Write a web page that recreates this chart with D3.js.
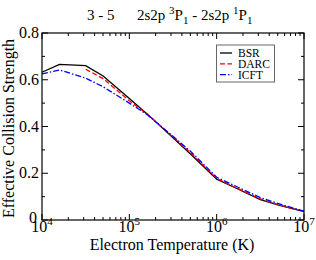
<!DOCTYPE html>
<html>
<head>
<meta charset="utf-8">
<script src="https://d3js.org/d3.v7.min.js"></script>
<style>
body { margin: 0; background: #fff; }
svg text { font-family: "Liberation Serif", "DejaVu Serif", serif; }
</style>
</head>
<body>
<script>
// temperatures (K) on a log grid
const temps = [1e4, 1.585e4, 3.162e4, 5.012e4, 1e5, 1.585e5, 3.162e5, 5.012e5, 1e6, 1.585e6, 3.162e6, 5.012e6, 1e7];
const bsr  = [0.632, 0.666, 0.660, 0.616, 0.520, 0.455, 0.352, 0.282, 0.175, 0.140, 0.087, 0.065, 0.036];
const darc = [null, null, 0.645, 0.605, 0.510, 0.455, 0.355, 0.288, 0.178, 0.142, 0.090, 0.066, 0.037];
const icft = [0.625, 0.642, 0.607, 0.570, 0.500, 0.452, 0.358, 0.294, 0.183, 0.148, 0.096, 0.071, 0.038];
const seriesNames = ["BSR", "DARC", "ICFT"];
const yTicks = [0, 0.2, 0.4, 0.6, 0.8];
const xTicks = [1e4, 1e5, 1e6, 1e7];

const width = 316, height = 260;
const margin = {left: 42, right: 12, top: 33, bottom: 40};

const svg = d3.select("body").append("svg")
  .attr("width", width).attr("height", height);

const x = d3.scaleLog().domain([1e4, 1e7]).range([margin.left, width - margin.right]);
const y = d3.scaleLinear().domain([0, 0.8]).range([height - margin.bottom, margin.top]);

const x0 = margin.left, x1 = width - margin.right;
const y0 = height - margin.bottom, y1 = margin.top;

// minor ticks
const xMinor = [];
[1e4, 1e5, 1e6].forEach(d => { for (let k = 2; k <= 9; k++) xMinor.push(d * k); });
const yMinor = [0.1, 0.3, 0.5, 0.7];

const tk = svg.append("g").attr("stroke", "#000").attr("stroke-width", 1);
xMinor.forEach(v => {
  tk.append("line").attr("x1", x(v)).attr("x2", x(v)).attr("y1", y0).attr("y2", y0 - 3);
  tk.append("line").attr("x1", x(v)).attr("x2", x(v)).attr("y1", y1).attr("y2", y1 + 3);
});
xTicks.forEach(v => {
  tk.append("line").attr("x1", x(v)).attr("x2", x(v)).attr("y1", y0).attr("y2", y0 - 6);
  tk.append("line").attr("x1", x(v)).attr("x2", x(v)).attr("y1", y1).attr("y2", y1 + 6);
});
yMinor.forEach(v => {
  tk.append("line").attr("x1", x0).attr("x2", x0 + 3).attr("y1", y(v)).attr("y2", y(v));
  tk.append("line").attr("x1", x1).attr("x2", x1 - 3).attr("y1", y(v)).attr("y2", y(v));
});
yTicks.forEach(v => {
  tk.append("line").attr("x1", x0).attr("x2", x0 + 6).attr("y1", y(v)).attr("y2", y(v));
  tk.append("line").attr("x1", x1).attr("x2", x1 - 6).attr("y1", y(v)).attr("y2", y(v));
});

// tick labels
svg.selectAll(".ylab").data(yTicks).enter().append("text")
  .attr("x", d => d === 0 ? x0 - 5 : x0 - 3).attr("y", d => y(d) + (d === 0 ? 3 : 5))
  .attr("text-anchor", "end").attr("font-size", 16)
  .text(d => d === 0 ? "0" : d3.format(".1f")(d));

const xl = svg.selectAll(".xlab").data(xTicks).enter().append("text")
  .attr("x", d => x(d)).attr("y", 232)
  .attr("text-anchor", "middle").attr("font-size", 16);
xl.append("tspan").text("10");
xl.append("tspan").attr("dy", -7).attr("font-size", 11).text(d => Math.round(Math.log10(d)));

// axis titles
svg.append("text").attr("x", (x0 + x1) / 2 - 1).attr("y", 250)
  .attr("text-anchor", "middle").attr("font-size", 16)
  .text("Electron Temperature (K)");
svg.append("text").attr("transform", `translate(14,${(y0 + y1) / 2 + 2}) rotate(-90)`)
  .attr("text-anchor", "middle").attr("font-size", 16)
  .text("Effective Collision Strength");

// title
const t = svg.append("text").attr("x", 87).attr("y", 20).attr("font-size", 15);
t.append("tspan").text("3 - 5");
t.append("tspan").attr("x", 137).text("2s2p ");
t.append("tspan").attr("dy", -6).attr("font-size", 11).text("3");
t.append("tspan").attr("dy", 6).text("P");
t.append("tspan").attr("dy", 4).attr("font-size", 11).text("1");
t.append("tspan").attr("dy", -4).text(" - 2s2p ");
t.append("tspan").attr("dy", -6).attr("font-size", 11).text("1");
t.append("tspan").attr("dy", 6).text("P");
t.append("tspan").attr("dy", 4).attr("font-size", 11).text("1");

// series
const styles = [
  {data: bsr, color: "#000", dash: null},
  {data: darc, color: "#ff0000", dash: "5,2.5"},
  {data: icft, color: "#0000ff", dash: "6,2,1.5,2"}
];
const line = d3.line()
  .defined(d => d[1] !== null)
  .x(d => x(d[0])).y(d => y(d[1]));
styles.forEach(s => {
  svg.append("path")
    .datum(temps.map((tv, i) => [tv, s.data[i]]))
    .attr("fill", "none").attr("stroke", s.color).attr("stroke-width", 1.3)
    .attr("stroke-dasharray", s.dash)
    .attr("d", line);
});

// frame
svg.append("rect").attr("x", x0).attr("y", y1)
  .attr("width", x1 - x0).attr("height", y0 - y1)
  .attr("fill", "none").attr("stroke", "#000").attr("stroke-width", 1.2);

// legend
const lg = svg.append("g");
lg.append("rect").attr("x", 216.5).attr("y", 45).attr("width", 58).attr("height", 37)
  .attr("fill", "#fff").attr("stroke", "#666").attr("stroke-width", 1);
styles.forEach((s, i) => {
  const ly = 53 + i * 10.8;
  lg.append("line").attr("x1", 220).attr("x2", 232).attr("y1", ly).attr("y2", ly)
    .attr("stroke", s.color).attr("stroke-width", 1.3).attr("stroke-dasharray", s.dash);
  lg.append("text").attr("x", 238).attr("y", ly + 4).attr("font-size", 11.5).text(seriesNames[i]);
});
</script>
</body>
</html>
